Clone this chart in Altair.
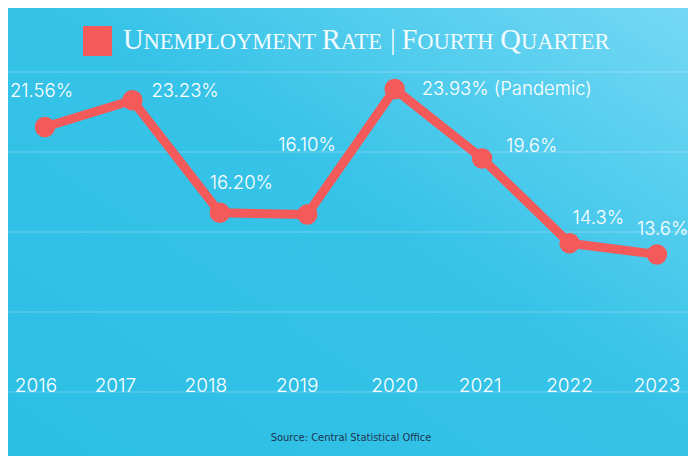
import altair as alt
import pandas as pd

years = [2016, 2017, 2018, 2019, 2020, 2021, 2022, 2023]
rates = [21.56, 23.23, 16.20, 16.10, 23.93, 19.6, 14.3, 13.6]
labels = ["21.56%", "23.23%", "16.20%", "16.10%", "23.93% (Pandemic)", "19.6%", "14.3%", "13.6%"]
grid_values = [5, 10, 15, 20, 25]

# title in small caps: (text, is_capital)
title_parts = [("U", True), ("NEMPLOYMENT", False), (" ", False), ("R", True), ("ATE", False),
               (" ", False), ("|", True), (" ", False), ("F", True), ("OURTH", False),
               (" ", False), ("Q", True), ("UARTER", False)]
source_text = "Source: Central Statistical Office"

df = pd.DataFrame({"year": years, "rate": rates, "label": labels, "ylab": [5] * len(years)})

W, H = 680, 448
RED = "#F45A5A"

xs = alt.Scale(domain=[2015.577, 2023.355], nice=False, zero=False)
ys = alt.Scale(domain=[1, 29], nice=False, zero=False)

base = alt.Chart(df)

bg = alt.Chart(alt.Data(values=[{}])).mark_rect(
    fill=alt.Gradient(
        gradient="linear", x1=0, y1=1, x2=1, y2=0,
        stops=[alt.GradientStop(color="#2CBEE4", offset=0),
               alt.GradientStop(color="#37C3E8", offset=0.55),
               alt.GradientStop(color="#74D8F4", offset=1)]),
).encode(x=alt.value(0), x2=alt.value(W), y=alt.value(0), y2=alt.value(H))

grid = alt.Chart(pd.DataFrame({"g": grid_values})).mark_rule(
    color="#ffffff", opacity=0.28, strokeWidth=1
).encode(y=alt.Y("g:Q", scale=ys, axis=None), x=alt.value(0), x2=alt.value(W))

line = base.mark_line(color=RED, strokeWidth=9, strokeCap="round", strokeJoin="round").encode(
    x=alt.X("year:Q", scale=xs, axis=None),
    y=alt.Y("rate:Q", scale=ys, axis=None),
)
pts = base.mark_circle(color=RED, opacity=1, size=420).encode(
    x=alt.X("year:Q", scale=xs), y=alt.Y("rate:Q", scale=ys)
)

label_offsets = {2016: (-35, -36), 2017: (19, -9), 2018: (-10, -30), 2019: (-29, -69),
                 2020: (27, 0), 2021: (24, -12), 2022: (3, -25), 2023: (-20, -25)}
year_dx = {2016: -9, 2017: -17, 2018: -14, 2019: -10, 2020: 0, 2021: -2, 2022: 0, 2023: 0}
text_layers = []
for yr in years:
    dx, dy = label_offsets[yr]
    sub = base.transform_filter(alt.datum.year == yr)
    text_layers.append(
        sub.mark_text(
            align="left", baseline="middle", dx=dx, dy=dy, font="Inter",
            fontSize=18.5, fontWeight=300, color="#ffffff"
        ).encode(x=alt.X("year:Q", scale=xs), y=alt.Y("rate:Q", scale=ys), text="label:N")
    )
    text_layers.append(
        sub.mark_text(
            align="center", baseline="alphabetic", dx=year_dx[yr], font="Inter",
            fontSize=19, fontWeight=300, color="#ffffff"
        ).encode(x=alt.X("year:Q", scale=xs), y=alt.Y("ylab:Q", scale=ys), text="year:N")
    )

square = alt.Chart(alt.Data(values=[{}])).mark_rect(color=RED).encode(
    x=alt.value(75), x2=alt.value(104), y=alt.value(18), y2=alt.value(48)
)

# Times/Liberation Serif advance widths (em) for laying out the small-caps title
em = {"U": .722, "N": .722, "E": .611, "M": .889, "P": .556, "L": .611, "O": .722, "Y": .722,
      "T": .611, "R": .667, "A": .722, "F": .556, "H": .722, "Q": .722, "|": .2, " ": .25}
BIG, SMALL = 28.5, 22.5
title_layers = []
cx = 115.0
for txt, cap in title_parts:
    fs = BIG if cap else SMALL
    if txt.strip():
        title_layers.append(
            alt.Chart(alt.Data(values=[{"t": txt}])).mark_text(
                align="left", baseline="alphabetic", font="Liberation Serif",
                fontSize=fs, color="#F2FBFF"
            ).encode(x=alt.value(cx), y=alt.value(41), text="t:N")
        )
    cx += sum(em[c] for c in txt) * fs

source = alt.Chart(alt.Data(values=[{"t": source_text}])).mark_text(
    align="center", baseline="alphabetic",
    font="Liberation Sans Narrow, DejaVu Sans Condensed, sans-serif",
    fontSize=11, color="#1D3550"
).encode(x=alt.value(343), y=alt.value(433), text="t:N")

chart = alt.layer(bg, grid, line, pts, *text_layers, square, *title_layers, source).properties(
    width=W, height=H, padding=0, autosize=alt.AutoSizeParams(type="none"),
    background="#35C3E8"
).configure_view(stroke=None)

chart.save("out.html", embed_options={"renderer": "svg", "actions": False})
